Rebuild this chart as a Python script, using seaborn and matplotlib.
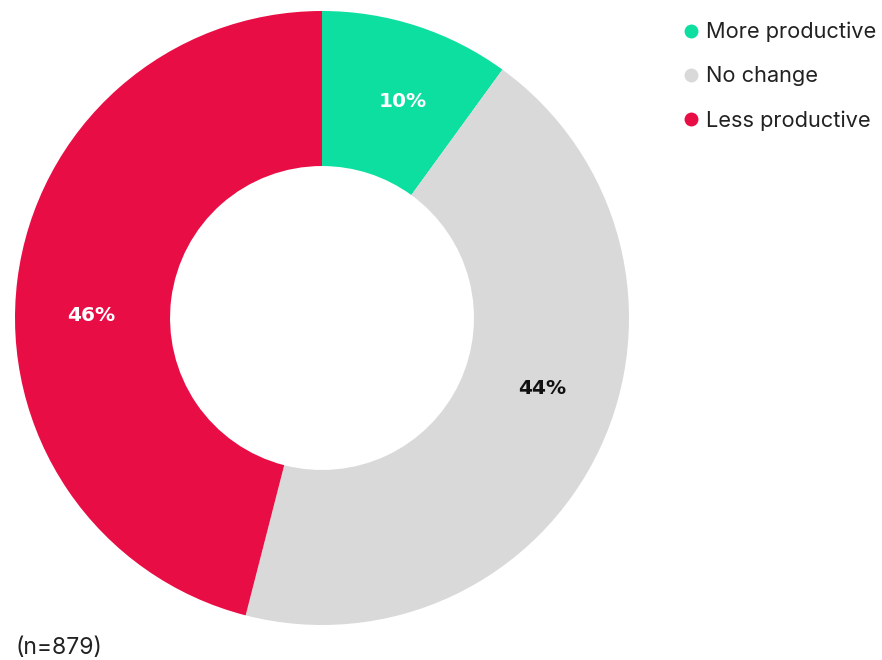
import matplotlib
matplotlib.use("Agg")
import matplotlib.pyplot as plt
from matplotlib.lines import Line2D
import numpy as np
import seaborn as sns

categories = ["More productive", "No change", "Less productive"]
values = [10, 44, 46]
colors = ["#0CDFA0", "#D9D9D9", "#E90D45"]
label_colors = ["white", "#111111", "white"]
note = "(n=879)"

sns.set_theme(style="white")
plt.rcParams['font.family'] = ['Inter', 'DejaVu Sans']

fig = plt.figure(figsize=(8.82, 6.6), dpi=100)
ax = fig.add_axes([15/882, 35/660, 614/882, 614/660])
wedges, texts, autotexts = ax.pie(
    values, colors=colors, startangle=90, counterclock=False,
    radius=1.0, wedgeprops=dict(width=0.505, linewidth=0),
    autopct=lambda p: f"{p:.0f}%", pctdistance=0.752,
)
# angular nudge (degrees) of each percentage label relative to the wedge middle
label_shift = [-2.5, 7.4, 6.7]
for t, c, w, s in zip(autotexts, label_colors, wedges, label_shift):
    mid = (w.theta1 + w.theta2) / 2 + s
    t.set_position((0.752 * np.cos(np.radians(mid)), 0.752 * np.sin(np.radians(mid))))
    t.set_color(c)
    t.set_fontsize(14.5)
    t.set_fontweight("bold")
    t.set_family(["DejaVu Sans"])
ax.set_xlim(-1, 1)
ax.set_ylim(-1, 1)
ax.set_aspect("equal")
ax.axis("off")

handles = [Line2D([0], [0], marker="o", linestyle="", markersize=10,
                  markerfacecolor=c, markeredgewidth=0) for c in colors]
fig.legend(handles, categories, loc="upper left",
           bbox_to_anchor=(678/882, 1 - 22/660), frameon=False,
           fontsize=15.7, handletextpad=0.1, labelspacing=1.1,
           handlelength=1.2, borderaxespad=0, borderpad=0,
           labelcolor="#222222")

fig.text(15/882, 1 - 648/660, note, fontsize=16.5, color="#222222",
         va="center", ha="left")

fig.savefig("out.png", dpi=100, facecolor="white")
